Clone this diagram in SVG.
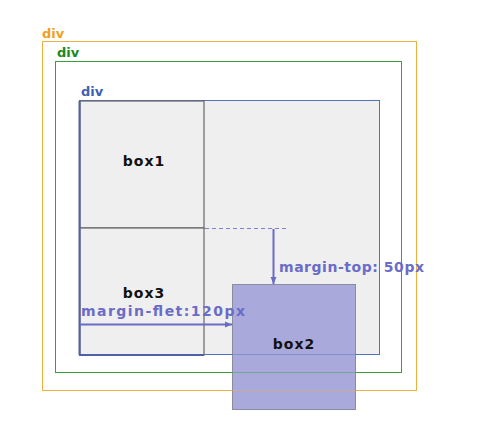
<svg xmlns="http://www.w3.org/2000/svg" width="478" height="439" viewBox="0 0 478 439">
<style>
.lbl{font-family:"DejaVu Sans","Liberation Sans",sans-serif;font-weight:bold;font-size:13px}
.box{font-family:"DejaVu Sans","Liberation Sans",sans-serif;font-weight:bold;font-size:14px;fill:#111;text-anchor:middle;letter-spacing:1px}
.ann{font-family:"DejaVu Sans","Liberation Sans",sans-serif;font-weight:bold;font-size:14px;fill:#6b6bc8}
</style>
<defs>
<marker id="ah" markerWidth="8" markerHeight="8" refX="7" refY="4" orient="auto" markerUnits="userSpaceOnUse">
<path d="M0,1 L7,4 L0,7 Z" fill="#6b6bc8"/>
</marker>
</defs>
<rect width="478" height="439" fill="#fff"/>
<g id="div-orange">
<text class="lbl" x="42" y="38" fill="#f0a020">div</text>
<rect x="42.5" y="41.5" width="374" height="349" fill="none" stroke="#f0b040" stroke-width="1"/>
</g>
<g id="div-green">
<text class="lbl" x="57" y="57" fill="#1a8a1a">div</text>
<rect x="55.5" y="61.5" width="346" height="311" fill="none" stroke="#3aa03a" stroke-width="1"/>
</g>
<g id="div-blue">
<text class="lbl" x="81" y="96" fill="#3f60b0">div</text>
<rect x="79.5" y="100.5" width="300" height="254" fill="#efefef" stroke="#5070c0" stroke-width="1"/>
</g>
<g id="box1">
<rect x="80" y="101" width="124" height="127" fill="#efefef" stroke="#666" stroke-width="1.2"/>
<text class="box" x="144" y="166">box1</text>
</g>
<g id="box3">
<rect x="80" y="228" width="124" height="127" fill="#efefef" stroke="#666" stroke-width="1.2"/>
<text class="box" x="144" y="298">box3</text>
</g>
<line x1="79.5" y1="101" x2="79.5" y2="355" stroke="#5060a8" stroke-width="2"/>
<line x1="79" y1="355" x2="204" y2="355" stroke="#5060a8" stroke-width="2"/>
<g id="box2">
<rect x="232.5" y="284.5" width="123" height="125" fill="#a9a9dc" stroke="#8a8aa0" stroke-width="1"/>
<text class="box" x="294" y="349">box2</text>
</g>
<g id="through" opacity="0.45">
<line x1="232" y1="354.5" x2="356" y2="354.5" stroke="#5070c0"/>
<line x1="232" y1="372.5" x2="356" y2="372.5" stroke="#3aa03a"/>
<line x1="232" y1="390.5" x2="356" y2="390.5" stroke="#f0b040"/>
</g>
<g id="connectors">
<line x1="205" y1="228.5" x2="287" y2="228.5" stroke="#8080d0" stroke-width="1" stroke-dasharray="4,3"/>
<line x1="273.5" y1="229" x2="273.5" y2="284" stroke="#6b6bc8" stroke-width="2" marker-end="url(#ah)"/>
<line x1="80" y1="324.5" x2="232" y2="324.5" stroke="#6b6bc8" stroke-width="2" marker-end="url(#ah)"/>
</g>
<text class="ann" x="279" y="272" textLength="145" lengthAdjust="spacing">margin-top: 50px</text>
<text class="ann" x="81" y="316" textLength="164" lengthAdjust="spacing">margin-flet:120px</text>
</svg>
